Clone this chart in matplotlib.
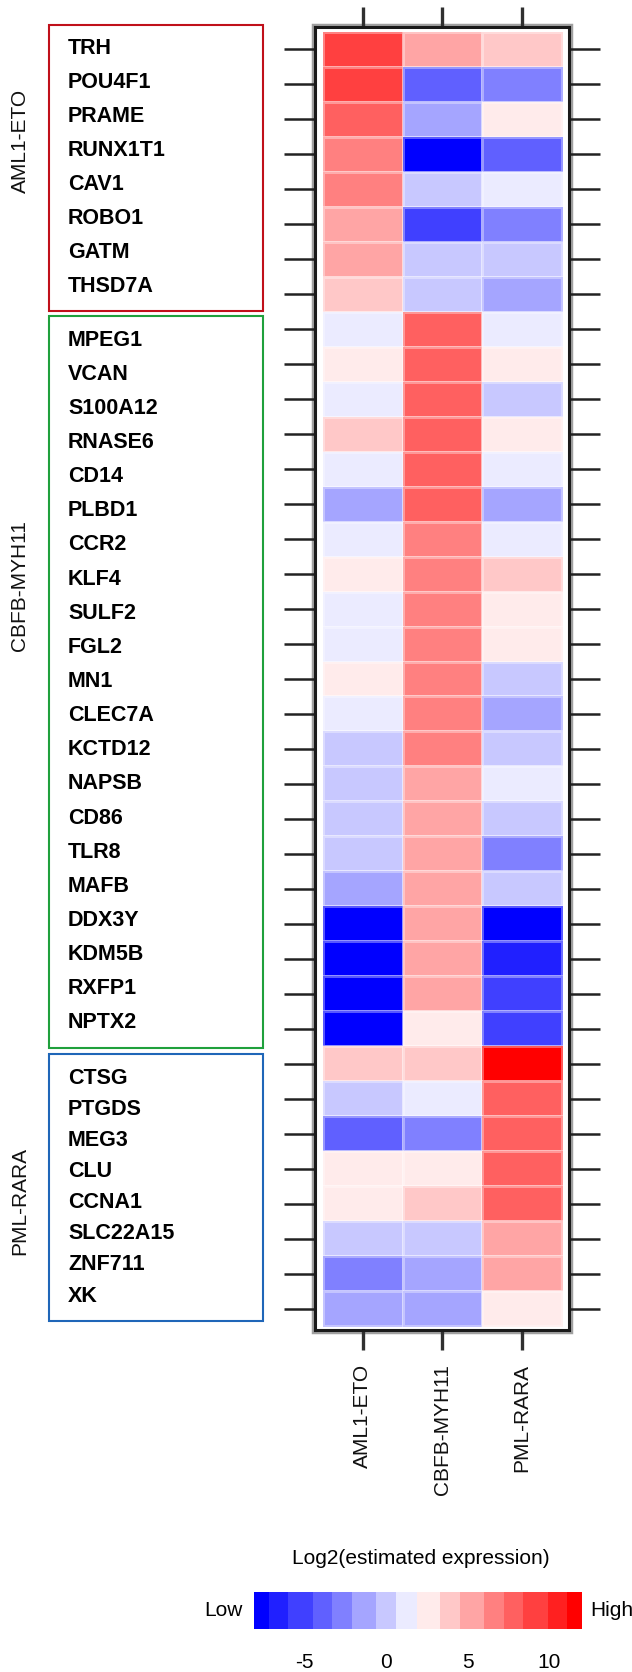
import numpy as np
import matplotlib
matplotlib.use("Agg")
import matplotlib.pyplot as plt
from matplotlib.colors import ListedColormap, BoundaryNorm
from matplotlib.patches import Rectangle
from matplotlib.cm import ScalarMappable

plt.rcParams['font.family'] = ['Liberation Sans', 'DejaVu Sans']

# data
groups = ['AML1-ETO', 'CBFB-MYH11', 'PML-RARA']
aml_genes = ['TRH', 'POU4F1', 'PRAME', 'RUNX1T1', 'CAV1', 'ROBO1', 'GATM', 'THSD7A']
cbfb_genes = ['MPEG1', 'VCAN', 'S100A12', 'RNASE6', 'CD14', 'PLBD1', 'CCR2', 'KLF4',
              'SULF2', 'FGL2', 'MN1', 'CLEC7A', 'KCTD12', 'NAPSB', 'CD86', 'TLR8',
              'MAFB', 'DDX3Y', 'KDM5B', 'RXFP1', 'NPTX2']
pml_genes = ['CTSG', 'PTGDS', 'MEG3', 'CLU', 'CCNA1', 'SLC22A15', 'ZNF711', 'XK']

aml1_eto = [9.1, 9.1, 7.8, 6.6, 6.6, 5.2, 5.2, 3.9,
            1.2, 2.6, 1.2, 3.9, 1.2, -1.4, 1.2, 2.6, 1.2, 1.2, 2.6, 1.2, 0.0,
            0.0, 0.0, 0.0, -1.4, -7.7, -7.7, -7.7, -7.7,
            3.9, 0.0, -3.9, 2.6, 2.6, 0.0, -2.7, -1.4]
cbfb_myh11 = [5.2, -3.9, -1.4, -7.7, 0.0, -5.2, 0.0, 0.0,
              7.8, 7.8, 7.8, 7.8, 7.8, 7.8, 6.6, 6.6, 6.6, 6.6, 6.6, 6.6, 6.6,
              5.2, 5.2, 5.2, 5.2, 5.2, 5.2, 5.2, 2.6,
              3.9, 1.2, -2.7, 2.6, 3.9, 0.0, -1.4, -1.4]
pml_rara = [3.9, -2.7, 2.6, -3.9, 1.2, -2.7, 0.0, -1.4,
            1.2, 2.6, 0.0, 2.6, 1.2, -1.4, 1.2, 3.9, 2.6, 2.6, 0.0, -1.4, 0.0,
            1.2, 0.0, -2.7, 0.0, -7.7, -6.6, -5.2, -5.2,
            11.5, 7.8, 7.8, 7.8, 7.8, 5.2, 5.2, 2.6]

bounds = [-8.1, -7.2, -6.0, -4.5, -3.3, -2.1, -0.6, 0.6, 1.9, 3.3, 4.5,
          6.0, 7.2, 8.4, 9.9, 11.1, 12.0]
cbar_ticks = [-5, 0, 5, 10]

palette = ['#0000FF', '#2020FF', '#4040FF', '#6060FF', '#8080FF', '#A5A5FF',
           '#C8C8FF', '#EBEBFF', '#FFEBEB', '#FFC8C8', '#FFA5A5', '#FF8080',
           '#FF6060', '#FF4040', '#FF2020', '#FF0000']
cmap = ListedColormap(palette)
norm = BoundaryNorm(bounds, cmap.N)

genes = aml_genes + cbfb_genes + pml_genes
M = np.array([aml1_eto, cbfb_myh11, pml_rara]).T

W, H = 632, 1672
fig = plt.figure(figsize=(W / 100, H / 100), dpi=100)


def px_axes(x0, y0, x1, y1, **kw):
    return fig.add_axes([x0 / W, 1 - y1 / H, (x1 - x0) / W, (y1 - y0) / H], **kw)


# overlay in pixel coordinates for boxes and free text
ov = px_axes(0, 0, W, H)
ov.set_xlim(0, W)
ov.set_ylim(H, 0)
ov.axis('off')

# soft grey shadow round the heatmap frame
ov.add_patch(Rectangle((313, 25), 258, 1307, fill=False, edgecolor='#a0a0a0', lw=2.5))

# heatmap
ax = px_axes(315, 27, 569, 1330)
nr = len(genes)
ax.pcolormesh(np.arange(4) - 0.5, np.arange(nr + 1) - 0.5, M, cmap=cmap, norm=norm,
              edgecolors=(1, 1, 1, 0.35), linewidth=0.8)
ax.set_xlim(-0.5 - 8 / 79.7, 2.5 + 7 / 79.7)
ax.set_ylim(nr - 0.5 + 4 / 35, -0.5 - 5 / 35)
for s in ax.spines.values():
    s.set_linewidth(2.2)
    s.set_color('#1a1a1a')
ax.set_yticks(np.arange(nr))
ax.set_yticklabels([])
ax.tick_params(axis='y', left=True, right=True, length=22, width=1.8, color='#222222')
ax.set_xticks(np.arange(3))
ax.set_xticklabels(groups, rotation=90, fontsize=15, color='#111111')
ax.tick_params(axis='x', top=True, bottom=True, length=14.5, width=2.4,
               color='#303030', pad=10)

# gene boxes with labels
boxes = [(25, 311, '#C0101A', aml_genes, 141),
         (316, 1048, '#1FA03C', cbfb_genes, 586),
         (1054, 1321, '#1F66B8', pml_genes, 1201)]
for top, bot, col, glist, gy in boxes:
    ov.add_patch(Rectangle((49, top), 214, bot - top, fill=False, edgecolor=col, lw=1.5))
    ys = np.linspace(top + 24, bot - 25, len(glist))
    for g, y in zip(glist, ys):
        ov.text(68, y, g, fontsize=15.5, fontweight='bold', va='center', ha='left')
for (top, bot, col, glist, gy), name in zip(boxes, groups):
    ov.text(20, gy, name, rotation=90, fontsize=15, va='center', ha='center', color='#111111')

# colorbar
cax = px_axes(254, 1592, 582, 1629)
cb = fig.colorbar(ScalarMappable(norm=norm, cmap=cmap), cax=cax, orientation='horizontal',
                  spacing='proportional', ticks=cbar_ticks)
cb.outline.set_visible(False)
cb.ax.minorticks_off()
cb.ax.tick_params(which='both', length=0, pad=17, labelsize=15)
cb.ax.set_xticklabels([str(t) for t in cbar_ticks])
ov.text(421, 1558, 'Log2(estimated expression)', fontsize=15, ha='center', va='center')
ov.text(243, 1611, 'Low', fontsize=15, ha='right', va='center')
ov.text(590, 1611, 'High', fontsize=15, ha='left', va='center')

fig.savefig('out.png', dpi=100)
